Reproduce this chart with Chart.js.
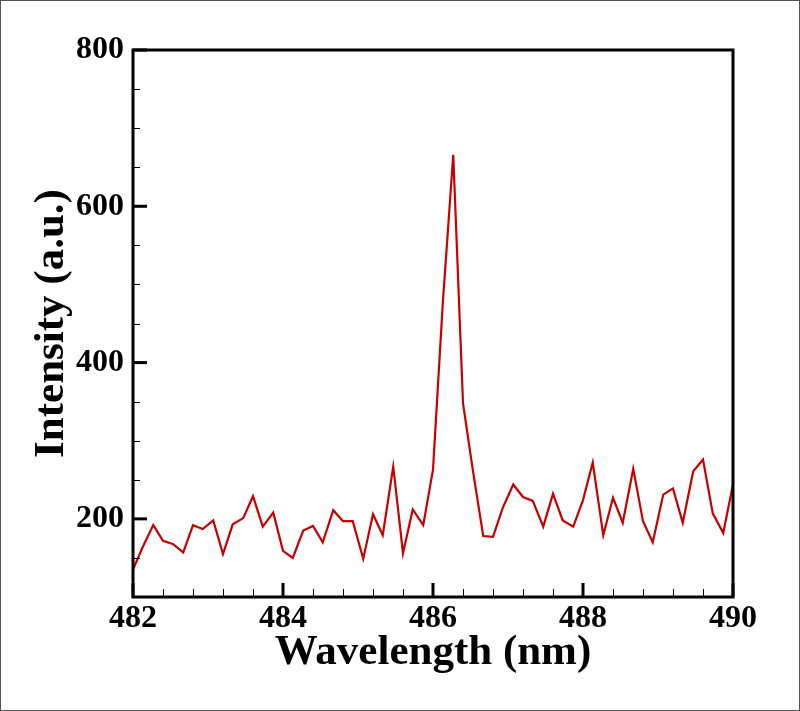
<!DOCTYPE html>
<html>
<head>
<meta charset="utf-8">
<script src="https://cdn.jsdelivr.net/npm/chart.js@4.4.1/dist/chart.umd.min.js"></script>
<style>
    body { margin: 0; background: #ffffff; }
    #frame { width: 800px; height: 711px; box-sizing: border-box; border: 1px solid #555555; background: #ffffff; }
    canvas { display: block; }
</style>
</head>
<body>
<div id="frame"><canvas id="spectrum-chart" width="798" height="709"></canvas></div>
<script>
// Spectrum around the H-beta line
const wavelengths = [
    482.00, 482.13, 482.27, 482.40, 482.53, 482.67, 482.80, 482.93, 483.07, 483.20,
    483.33, 483.47, 483.60, 483.73, 483.87, 484.00, 484.13, 484.27, 484.40, 484.53,
    484.67, 484.80, 484.93, 485.07, 485.20, 485.33, 485.47, 485.60, 485.73, 485.87,
    486.00, 486.13, 486.27, 486.40, 486.53, 486.67, 486.80, 486.93, 487.07, 487.20,
    487.33, 487.47, 487.60, 487.73, 487.87, 488.00, 488.13, 488.27, 488.40, 488.53,
    488.67, 488.80, 488.93, 489.07, 489.20, 489.33, 489.47, 489.60, 489.73, 489.87,
    490.00
];
const intensities = [
    135, 164, 192, 172, 168, 157, 192, 187, 198, 155,
    193, 201, 229, 190, 208, 159, 150, 185, 191, 170,
    211, 197, 197, 149, 206, 179, 267, 156, 212, 192,
    263, 475, 666, 348, 263, 178, 177, 214, 244, 228,
    223, 190, 232, 198, 190, 224, 272, 179, 227, 195,
    264, 197, 170, 231, 239, 195, 261, 276, 207, 182,
    244
];

const xMajorTicks = [482, 484, 486, 488, 490];
const xMinorTicks = [482.4, 482.8, 483.2, 483.6, 484.4, 484.8, 485.2, 485.6,
    486.4, 486.8, 487.2, 487.6, 488.4, 488.8, 489.2, 489.6];
const yMajorTicks = [200, 400, 600, 800];
const yMinorTicks = [150, 250, 300, 350, 450, 500, 550, 650, 700, 750];

const serif = "'Liberation Serif', 'Times New Roman', serif";

// box round the plot plus inward tick marks on the bottom and left axes
const axisFramePlugin = {
    id: 'axisFrame',
    afterDraw(chart) {
        const ctx = chart.ctx;
        const area = chart.chartArea;
        const xScale = chart.scales.x;
        const yScale = chart.scales.y;
        ctx.save();
        ctx.strokeStyle = '#000000';

        ctx.lineWidth = 1;
        xMinorTicks.forEach(v => {
            const px = Math.round(xScale.getPixelForValue(v)) + 0.5;
            ctx.beginPath();
            ctx.moveTo(px, area.bottom);
            ctx.lineTo(px, area.bottom - 8);
            ctx.stroke();
        });
        yMinorTicks.forEach(v => {
            const py = Math.round(yScale.getPixelForValue(v)) + 0.5;
            ctx.beginPath();
            ctx.moveTo(area.left, py);
            ctx.lineTo(area.left + 7, py);
            ctx.stroke();
        });

        ctx.lineWidth = 3;
        xMajorTicks.forEach(v => {
            const px = xScale.getPixelForValue(v);
            ctx.beginPath();
            ctx.moveTo(px, area.bottom);
            ctx.lineTo(px, area.bottom - 14);
            ctx.stroke();
        });
        yMajorTicks.forEach(v => {
            const py = yScale.getPixelForValue(v);
            ctx.beginPath();
            ctx.moveTo(area.left, py);
            ctx.lineTo(area.left + 14, py);
            ctx.stroke();
        });

        ctx.lineWidth = 3;
        ctx.strokeRect(area.left, area.top, area.right - area.left, area.bottom - area.top);
        ctx.restore();
    }
};

const spectrumCtx = document.getElementById('spectrum-chart').getContext('2d');

const spectrumChart = new Chart(spectrumCtx, {
    type: 'line',
    data: {
        datasets: [
            {
                data: wavelengths.map((w, i) => ({ x: w, y: intensities[i] })),
                borderColor: '#c80000',
                borderWidth: 2.2,
                pointRadius: 0,
                tension: 0,
                fill: false
            }
        ]
    },
    options: {
        responsive: false,
        animation: false,
        devicePixelRatio: 1,
        layout: {
            padding: { left: 0, top: 49, right: 66, bottom: 0 }
        },
        plugins: {
            legend: { display: false },
            tooltip: { enabled: false }
        },
        scales: {
            x: {
                type: 'linear',
                min: 482,
                max: 490,
                afterBuildTicks: scale => {
                    scale.ticks = xMajorTicks.map(v => ({ value: v }));
                },
                afterFit: scale => {
                    scale.height = 113;
                },
                grid: { display: false, drawTicks: false },
                border: { display: false },
                ticks: {
                    color: '#000000',
                    padding: 3,
                    maxRotation: 0,
                    font: { family: serif, size: 32, weight: 'bold' }
                },
                title: {
                    display: true,
                    text: 'Wavelength (nm)',
                    color: '#000000',
                    padding: { top: 0, bottom: 31 },
                    font: { family: serif, size: 43, weight: 'bold', lineHeight: 1.2 }
                }
            },
            y: {
                min: 100,
                max: 800,
                afterBuildTicks: scale => {
                    scale.ticks = yMajorTicks.map(v => ({ value: v }));
                },
                afterFit: scale => {
                    scale.width = 132;
                },
                grid: { display: false, drawTicks: false },
                border: { display: false },
                ticks: {
                    color: '#000000',
                    padding: 9,
                    font: { family: serif, size: 32, weight: 'bold' }
                },
                title: {
                    display: true,
                    text: 'Intensity (a.u.)',
                    color: '#000000',
                    padding: { top: 25, bottom: 0 },
                    font: { family: serif, size: 43, weight: 'bold', lineHeight: 1.2 }
                }
            }
        }
    },
    plugins: [axisFramePlugin]
});
</script>
</body>
</html>
